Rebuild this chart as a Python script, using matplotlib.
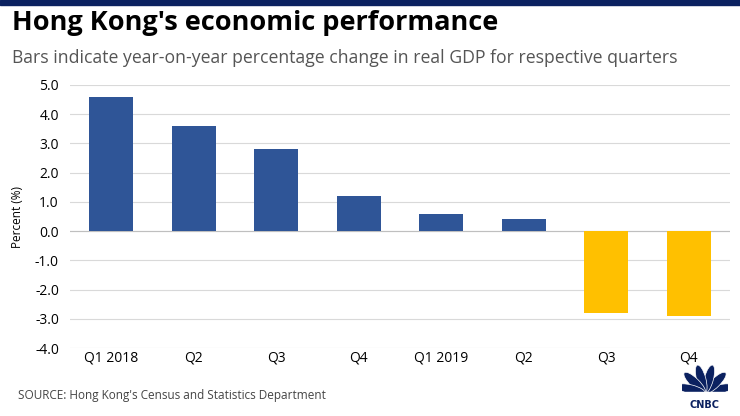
import matplotlib
matplotlib.use('Agg')
import matplotlib.pyplot as plt
import matplotlib.patches as mpatches
import numpy as np

# Data
quarters = ['Q1 2018', 'Q2', 'Q3', 'Q4', 'Q1 2019', 'Q2', 'Q3', 'Q4']
gdp_change = [4.6, 3.6, 2.8, 1.2, 0.6, 0.4, -2.8, -2.9]
yticks = [5.0, 4.0, 3.0, 2.0, 1.0, 0.0, -1.0, -2.0, -3.0, -4.0]

blue = '#2F5597'
yellow = '#FFC000'
navy = '#0B2160'

plt.rcParams['font.family'] = ['Open Sans', 'DejaVu Sans']

fig = plt.figure(figsize=(7.4, 4.16), dpi=100)
W, H = 740, 416

# top navy strip
fig.patches.append(mpatches.Rectangle((0, 1 - 5 / H), 1, 5 / H, transform=fig.transFigure,
                                      color=navy, zorder=0))

fig.text(12 / W, 1 - 23 / H, "Hong Kong's economic performance", fontsize=19.5, fontweight='bold',
         color='black', va='center', ha='left')
fig.text(12 / W, 1 - 58 / H, "Bars indicate year-on-year percentage change in real GDP for respective quarters",
         fontsize=12.7, color='#555555', va='center', ha='left')

ax = fig.add_axes([70 / W, 68 / H, 660 / W, (348 - 85) / H])
x = np.arange(len(quarters))
colors = [blue if v >= 0 else yellow for v in gdp_change]
ax.bar(x, gdp_change, width=0.53, color=colors, zorder=3)

ax.set_xlim(-0.5, len(quarters) - 0.5)
ax.set_ylim(-4.0, 5.0)
ax.set_yticks(yticks)
ax.set_yticklabels([f'{v:.1f}' for v in yticks], fontsize=10)
ax.set_xticks(x)
ax.set_xticklabels(quarters, fontsize=10)
ax.tick_params(axis='y', length=0, pad=8)
ax.tick_params(axis='x', length=0, pad=2)
ax.grid(axis='y', color='#D9D9D9', linewidth=0.8, zorder=0)
ax.axhline(0, color='#BFBFBF', linewidth=0.8, zorder=2)
for s in ax.spines.values():
    s.set_visible(False)
ax.set_ylabel('Percent (%)', fontsize=8.5, labelpad=8)

fig.text(18 / W, 1 - 395 / H, "SOURCE: Hong Kong's Census and Statistics Department",
         fontsize=8.5, color='#444444', va='center', ha='left')

# CNBC peacock logo
lax = fig.add_axes([682 / W, 1 - 412 / H, 46 / W, 50 / H])
lax.set_xlim(-1.15, 1.15)
lax.set_ylim(-0.95, 1.55)
lax.axis('off')
for ang in np.linspace(14, 166, 6):
    r = np.deg2rad(ang)
    lax.add_patch(mpatches.Ellipse((0.72 * np.cos(r), 0.0 + 0.72 * np.sin(r)), 1.45, 0.46,
                                   angle=ang, facecolor=navy, edgecolor='white', linewidth=0.5))
lax.add_patch(mpatches.Rectangle((-1.2, -0.35), 2.4, 0.38, color='white'))
lax.text(0, -0.58, 'CNBC', fontsize=7, fontweight='bold', color=navy, ha='center', va='center',
         family='DejaVu Sans')

fig.savefig('out.png', dpi=100, facecolor='white')
